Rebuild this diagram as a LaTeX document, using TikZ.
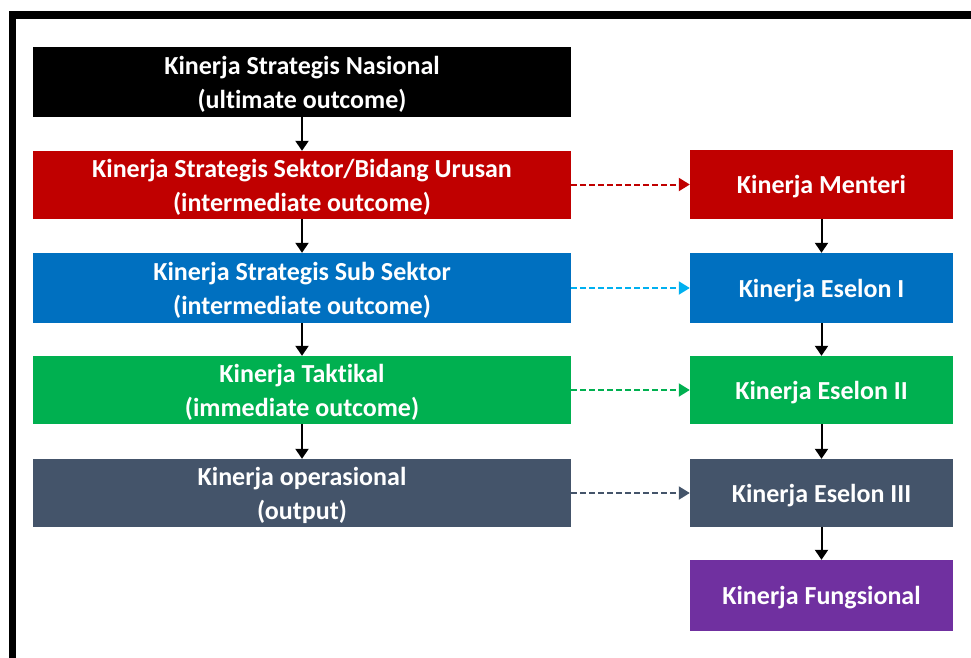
\documentclass[tikz,border=0pt]{standalone}
\usepackage{fontspec}
\setmainfont{Carlito}[Ligatures=NoCommon]
\usetikzlibrary{arrows.meta}
\definecolor{cRed}{HTML}{C00000}
\definecolor{cBlue}{HTML}{0070C0}
\definecolor{cLBlue}{HTML}{00B0F0}
\definecolor{cGreen}{HTML}{00B050}
\definecolor{cGray}{HTML}{44546A}
\definecolor{cPurple}{HTML}{7030A0}
\tikzset{
  box/.style={draw=none, inner sep=0pt, text=white, align=center, text depth=0pt,
    font=\fontsize{26pt}{34pt}\selectfont\bfseries},
  vline/.style={-{Triangle[length=10pt,width=13pt]}, line width=2pt, black},
  dline/.style={-{Triangle[length=11pt,width=13pt]}, line width=2pt, dash pattern=on 6pt off 3pt},
}
\begin{document}
\begin{tikzpicture}[x=1pt,y=-1pt]
\useasboundingbox (0,0) rectangle (971,657);
\begin{scope}
\clip (0,0) rectangle (971,657);
\draw[line width=7.5pt] (12.5,15) rectangle (1010,700);
\end{scope}
% left column
\node[box, fill=black, minimum width=538pt, minimum height=70pt] (l1) at (302,82) {Kinerja Strategis Nasional\\(ultimate outcome)};
\node[box, fill=cRed, minimum width=538pt, minimum height=68pt] (l2) at (302,185) {Kinerja Strategis Sektor/Bidang Urusan\\(intermediate outcome)};
\node[box, fill=cBlue, minimum width=538pt, minimum height=70pt] (l3) at (302,288) {Kinerja Strategis Sub Sektor\\(intermediate outcome)};
\node[box, fill=cGreen, minimum width=538pt, minimum height=68pt] (l4) at (302,390) {Kinerja Taktikal\\(immediate outcome)};
\node[box, fill=cGray, minimum width=538pt, minimum height=68pt] (l5) at (302,493) {Kinerja operasional\\(output)};
% right column
\node[box, fill=cRed, minimum width=263pt, minimum height=69pt] (r1) at (821.5,184.5) {Kinerja Menteri};
\node[box, fill=cBlue, minimum width=263pt, minimum height=70pt] (r2) at (821.5,288) {Kinerja Eselon I};
\node[box, fill=cGreen, minimum width=263pt, minimum height=68pt] (r3) at (821.5,390) {Kinerja Eselon II};
\node[box, fill=cGray, minimum width=263pt, minimum height=68pt] (r4) at (821.5,493) {Kinerja Eselon III};
\node[box, fill=cPurple, minimum width=263pt, minimum height=71pt] (r5) at (821.5,595.5) {Kinerja Fungsional};
% vertical arrows
\draw[vline] (l1) -- (l2);
\draw[vline] (l2) -- (l3);
\draw[vline] (l3) -- (l4);
\draw[vline] (l4) -- (l5);
\draw[vline] (r1) -- (r2);
\draw[vline] (r2) -- (r3);
\draw[vline] (r3) -- (r4);
\draw[vline] (r4) -- (r5);
% dashed arrows
\draw[dline, cRed] (l2.east |- r1) -- (r1.west);
\draw[dline, cLBlue] (l3) -- (r2);
\draw[dline, cGreen] (l4) -- (r3);
\draw[dline, cGray] (l5) -- (r4);
\end{tikzpicture}
\end{document}
